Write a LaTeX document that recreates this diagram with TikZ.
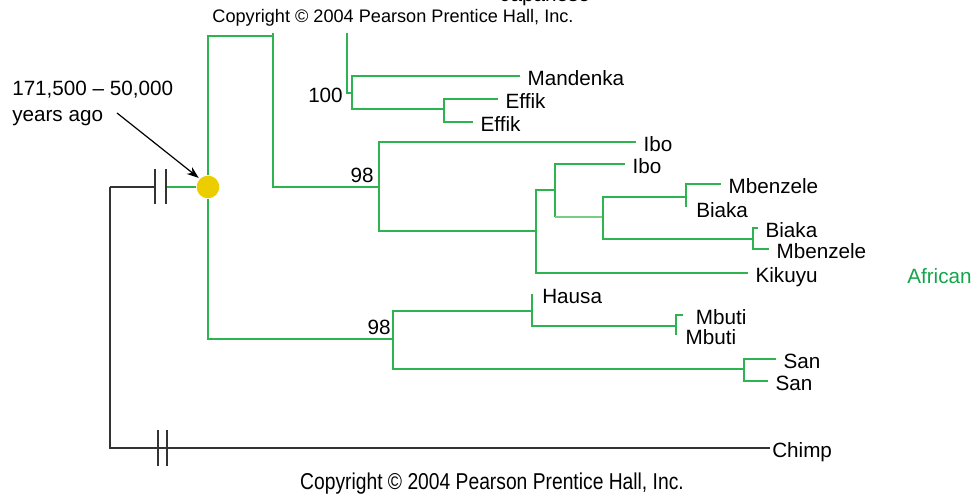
\documentclass[tikz,border=0pt]{standalone}
\usepackage{fontspec}
\setmainfont{Liberation Sans}
\newfontfamily\narrowfont[FakeStretch=0.84]{Liberation Sans}
\usetikzlibrary{arrows.meta}
\definecolor{tree}{RGB}{45,180,80}
\definecolor{treelight}{RGB}{120,205,130}
\definecolor{afrgreen}{RGB}{20,165,75}
\definecolor{dotyellow}{RGB}{236,206,0}
\begin{document}
\begin{tikzpicture}[x=0.75pt,y=-0.75pt,
  br/.style={draw=tree, line width=1.1pt},
  brlight/.style={draw=treelight, line width=0.8pt},
  blk/.style={draw=black!80, line width=1.1pt},
  leaf/.style={anchor=west, inner xsep=5.5pt, inner ysep=0pt, text height=15pt, text depth=0pt, font=\fontsize{15.5}{18}\selectfont},
  lab/.style={anchor=base east, inner sep=0pt, font=\fontsize{15.5}{18}\selectfont},
  txt/.style={inner sep=0pt, font=\fontsize{15.5}{18}\selectfont}]
\useasboundingbox (0,0) rectangle (976,498);
\clip (0,0) rectangle (976,498);

% partially hidden top label
\node[txt, anchor=base west] (jap) at (500,2) {Japanese};

% root and outgroup
\coordinate (root) at (110,187);
\node[circle, fill=dotyellow, minimum size=17pt, inner sep=0pt] (afr) at (208,187) {};
\coordinate (m1) at (155,187);
\coordinate (m2) at (166,187);
\draw[blk] (root) -- (m1);
\draw[br] (m2) -- (afr);
\draw[blk] (155,169) -- (155,204);
\draw[blk] (166,169) -- (166,204);

\node[leaf, inner xsep=1.5pt] (chimp) at (770,448) {Chimp};
\draw[blk] (root) |- (chimp.west);
\draw[blk] (158,430) -- (158,466);
\draw[blk] (167,430) -- (167,466);

% upper clade
\coordinate (ut) at (273,36);
\coordinate (u0) at (273,33);
\coordinate (u1) at (273,187);
\coordinate (n98a) at (379,187);
\draw[br] (afr) |- (ut);
\draw[br] (u0) -- (u1) -- (n98a);

\coordinate (j0) at (347,33);
\coordinate (n100) at (352,93);
\draw[br] (j0) |- (n100);
\node[lab] (l100) at (343,102.5) {100};
\node[leaf] (mand) at (520,76) {Mandenka};
\draw[br] (n100) |- (mand.west);
\coordinate (eff) at (444,109);
\draw[br] (n100) |- (eff);
\node[leaf] (eff1) at (498,99) {Effik};
\node[leaf] (eff2) at (473,122) {Effik};
\draw[br] (eff) |- (eff1.west);
\draw[br] (eff) |- (eff2.west);

\node[lab] (l98a) at (374,182.5) {98};
\node[leaf] (ibo1) at (636,142) {Ibo};
\draw[br] (n98a) |- (ibo1.west);
\coordinate (k) at (536,231);
\draw[br] (n98a) |- (k);
\node[leaf] (kik) at (748,273) {Kikuyu};
\draw[br] (k) |- (kik.west);
\coordinate (m) at (555,190);
\draw[br] (k) |- (m);
\node[leaf] (ibo2) at (625,164) {Ibo};
\draw[br] (m) |- (ibo2.west);
\coordinate (p) at (603,217);
\draw[br] (m) -- (m |- p);
\draw[brlight] (m |- p) -- (p);
\coordinate (q) at (686,197);
\draw[br] (p) |- (q);
\node[leaf] (mb1) at (721,184) {Mbenzele};
\draw[br] (q) |- (mb1.west);
\node[leaf, inner xsep=7.5pt] (bi1) at (686,208) {Biaka};
\draw[br] (q) -- ++(0,10);
\coordinate (r) at (753,239);
\draw[br] (p) |- (r);
\node[leaf] (bi2) at (758,228) {Biaka};
\draw[br] (r) |- (bi2.west);
\node[leaf] (mb2) at (769,249) {Mbenzele};
\draw[br] (r) |- (mb2.west);

\node[leaf, inner xsep=0pt, text=afrgreen] (african) at (907,274) {African};

% lower clade
\coordinate (n98b) at (393,339);
\draw[br] (afr) |- (n98b);
\node[lab] (l98b) at (391,334.5) {98};
\coordinate (h) at (532,311);
\draw[br] (n98b) |- (h);
\node[leaf, inner xsep=7.5pt] (hau) at (532,294) {Hausa};
\draw[br] (h) -- (hau.west);
\coordinate (mbu) at (676,326);
\draw[br] (h) |- (mbu);
\node[leaf, inner xsep=9.5pt] (mbu1) at (683,315) {Mbuti};
\draw[br] (mbu) |- (mbu1.west);
\node[leaf, inner xsep=7pt] (mbu2) at (676,335) {Mbuti};
\draw[br] (mbu) -- ++(0,9);
\coordinate (s) at (744,369);
\draw[br] (n98b) |- (s);
\node[leaf] (san1) at (776,359) {San};
\node[leaf] (san2) at (768,381) {San};
\draw[br] (s) |- (san1.west);
\draw[br] (s) |- (san2.west);

% annotation
\node[txt, anchor=base west] (ann1) at (12,95.5) {171,500 – 50,000};
\node[txt, anchor=base west] (ann2) at (12,121.5) {years ago};
\coordinate (arrs) at (117,113);
\draw[-{Stealth[length=9pt,width=6.5pt]}, line width=0.9pt, shorten >=1pt] (arrs) -- (afr.north west);

% copyright notices
\node[fill=white, inner sep=1pt, font=\fontsize{13.6}{16}\selectfont] (copytop) at (393,18) {Copyright © 2004 Pearson Prentice Hall, Inc.};
\node[inner sep=0pt, font=\narrowfont\fontsize{17.2}{20}\selectfont] (copybot) at (492,483.5) {Copyright © 2004 Pearson Prentice Hall, Inc.};
\end{tikzpicture}
\end{document}
